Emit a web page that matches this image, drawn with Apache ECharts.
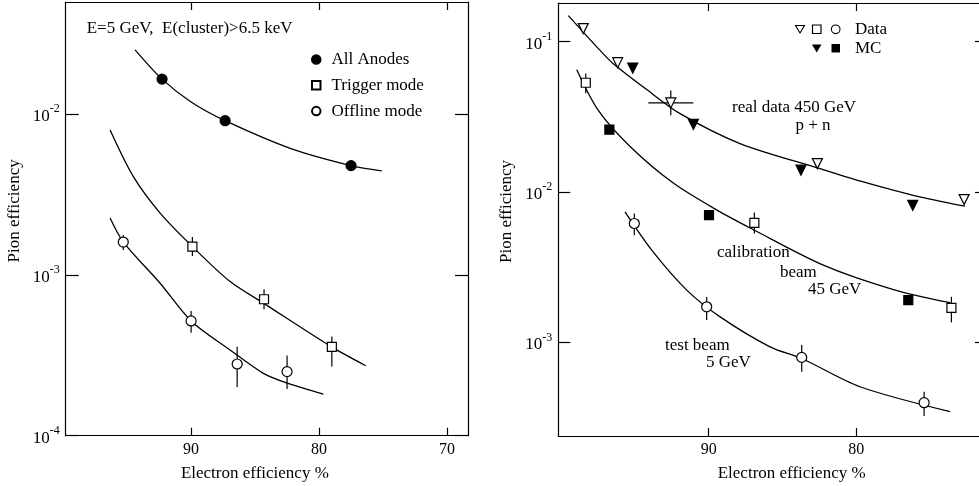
<!DOCTYPE html>
<html>
<head>
<meta charset="utf-8">
<script src="https://cdn.jsdelivr.net/npm/echarts@6/dist/echarts.min.js"></script>
<style>
html, body { margin: 0; padding: 0; background: #fff; }
#chart { width: 979px; height: 486px; }
</style>
</head>
<body>
<div id="chart"></div>
<script>
// left panel: E = 5 GeV
const xTicksLeft = [90, 80, 70];
const yTicksLeft = [1e-4, 1e-3, 1e-2];
const allAnodes = [[92.27, 0.0165], [87.34, 0.0091], [77.5, 0.00478]];
const triggerMode = [[89.9, 0.0015], [84.3, 0.000705], [79.0, 0.000356]];
const triggerErr = [[89.9, 0.00131, 0.00172], [84.3, 0.000611, 0.000813], [79.0, 0.000269, 0.000413]];
const offlineMode = [[95.3, 0.0016], [90.0, 0.000517], [86.4, 0.000279], [82.5, 0.00025]];
const offlineErr = [[95.3, 0.00143, 0.00177], [90.0, 0.000437, 0.000596], [86.4, 0.000201, 0.000357], [82.5, 0.000195, 0.000315]];
const fitAll = [[94.38, 0.0251], [92.27, 0.0165], [90.0, 0.0119], [87.34, 0.0091], [82.2, 0.0061], [77.5, 0.00478], [75.1, 0.00443]];
const fitTrigger = [[96.33, 0.00796], [94.51, 0.00408], [92.42, 0.00242], [89.9, 0.0015], [86.95, 0.000908], [84.32, 0.000665], [78.98, 0.000355], [76.35, 0.000272]];
const fitOffline = [[96.33, 0.00226], [95.29, 0.0016], [92.42, 0.000887], [90.0, 0.000517], [86.95, 0.000341], [84.35, 0.000244], [82.48, 0.000212], [79.66, 0.000181]];

// right panel: data vs MC
const xTicksRight = [90, 80];
const yTicksRight = [1e-3, 1e-2, 1e-1];
const dataTri = [[98.5, 0.122], [96.17, 0.0724], [92.57, 0.0391], [82.64, 0.01545], [72.7, 0.00891]];
const mcTri = [[95.15, 0.0667], [91.04, 0.0282], [83.75, 0.01397], [76.18, 0.00816]];
const dataSq = [[98.33, 0.0533], [86.91, 0.00624], [73.56, 0.0017]];
const mcSq = [[96.73, 0.026], [89.98, 0.00702], [76.48, 0.00191]];
const dataCirc = [[95.04, 0.00618], [90.14, 0.001726], [83.7, 0.000796], [75.41, 0.000398]];
const triErrY = [[92.57, 0.0324, 0.0474]];
const triErrX = [[0.0391, 94.09, 91.04]];
const sqErr = [[98.33, 0.0453, 0.0615], [86.91, 0.0053, 0.00731], [73.56, 0.00136, 0.00201]];
const circErr = [[95.04, 0.00516, 0.00719], [90.14, 0.00141, 0.00201], [83.7, 0.000638, 0.000962], [75.41, 0.000325, 0.000471]];
const fitReal = [[99.51, 0.149], [97.36, 0.0874], [96.46, 0.0713], [94.2, 0.048], [91.94, 0.0332], [87.88, 0.021], [82.46, 0.0143], [79.53, 0.01167], [76.15, 0.00952], [72.64, 0.00805]];
const fitCalib = [[98.94, 0.065], [97.48, 0.0349], [95.33, 0.0201], [92.4, 0.01148], [89.23, 0.00738], [87.0, 0.00564], [82.24, 0.00327], [77.49, 0.00225], [73.65, 0.00184]];
const fitTest = [[95.67, 0.00738], [93.86, 0.00411], [91.49, 0.00223], [89.23, 0.00148], [85.85, 0.000936], [83.7, 0.000783], [79.75, 0.000508], [73.65, 0.000347]];

const serif = 'Liberation Serif';
const ink = '#000';

let chart = echarts.init(document.getElementById('chart'), null, { renderer: 'canvas' });

function xAxisOf(grid, pos, min, max, ticks, withLabels, namePad) {
    return {
        type: 'value', gridIndex: grid, position: pos, inverse: true, min: min, max: max,
        name: withLabels ? 'Electron efficiency %' : '', nameLocation: 'middle', nameGap: 29,
        nameTextStyle: { fontFamily: serif, fontSize: 17, color: ink, padding: namePad || 0 },
        axisLine: { show: true, onZero: false, lineStyle: { color: ink, width: 1.2 } },
        axisTick: { show: true, inside: true, length: 8, customValues: ticks, lineStyle: { color: ink, width: 1.2 } },
        axisLabel: { show: withLabels, customValues: ticks, margin: 6, fontFamily: serif, fontSize: 16, color: ink },
        splitLine: { show: false }
    };
}

function yAxisOf(grid, pos, min, max, ticks, withLabels, tickLen) {
    return {
        type: 'log', logBase: 10, gridIndex: grid, position: pos, min: min, max: max,
        name: withLabels ? 'Pion efficiency' : '', nameLocation: 'middle', nameGap: 43, nameRotate: 90,
        nameTextStyle: { fontFamily: serif, fontSize: 17, color: ink, padding: [0, 0, 0, 16] },
        axisLine: { show: true, onZero: false, lineStyle: { color: ink, width: 1.2 } },
        axisTick: { show: true, inside: true, length: tickLen, customValues: ticks, lineStyle: { color: ink, width: 1.2 } },
        axisLabel: {
            show: withLabels, customValues: ticks, margin: 6,
            formatter: function (v) { return '{b|10}{e|' + Math.round(Math.log10(v)) + '}'; },
            rich: {
                b: { fontFamily: serif, fontSize: 17, color: ink, lineHeight: 22, verticalAlign: 'bottom' },
                e: { fontFamily: serif, fontSize: 12, color: ink, lineHeight: 12, verticalAlign: 'top' }
            }
        },
        splitLine: { show: false },
        minorTick: { show: false }
    };
}

function errRender(params, api) {
    let p1 = api.coord([api.value(0), api.value(1)]);
    let p2 = api.coord([api.value(0), api.value(2)]);
    return { type: 'line', shape: { x1: p1[0], y1: p1[1], x2: p2[0], y2: p2[1] }, style: { stroke: ink, lineWidth: 1.2 } };
}
function errRenderX(params, api) {
    let p1 = api.coord([api.value(1), api.value(0)]);
    let p2 = api.coord([api.value(2), api.value(0)]);
    return { type: 'line', shape: { x1: p1[0], y1: p1[1], x2: p2[0], y2: p2[1] }, style: { stroke: ink, lineWidth: 1.2 } };
}

function fitLine(name, data, ax) {
    return {
        name: name, type: 'line', xAxisIndex: ax, yAxisIndex: ax, data: data,
        smooth: 0.3, showSymbol: false, silent: true, z: 2,
        lineStyle: { color: ink, width: 1.3 }
    };
}
function errSeries(name, data, ax) {
    return { name: name, type: 'custom', xAxisIndex: ax, yAxisIndex: ax, data: data, renderItem: errRender, encode: { x: 0, y: [1, 2] }, silent: true, z: 3 };
}
function pts(name, data, ax, symbol, size, filled, rotate) {
    return {
        name: name, type: 'scatter', xAxisIndex: ax, yAxisIndex: ax, data: data,
        symbol: symbol, symbolSize: size, symbolRotate: rotate || 0, z: 5,
        itemStyle: { color: filled ? ink : '#fff', borderColor: ink, borderWidth: 1.2, opacity: 1 }
    };
}

let txt = function (x, y, s, align) {
    return { type: 'text', x: x, y: y, style: { text: s, fontFamily: serif, fontSize: 17, fill: ink, align: align || 'left', verticalAlign: 'middle' } };
};

let option = {
    animation: false,
    backgroundColor: '#fff',
    grid: [
        { left: 65.7, top: 2, width: 402.3, height: 433.7, containLabel: false, outerBoundsMode: 'none' },
        { left: 558.3, top: 3, width: 428.7, height: 433, containLabel: false, outerBoundsMode: 'none' }
    ],
    xAxis: [
        xAxisOf(0, 'bottom', 68.36, 99.8, xTicksLeft, true, [0, 24, 0, 0]),
        xAxisOf(0, 'top', 68.36, 99.8, xTicksLeft, false),
        xAxisOf(1, 'bottom', 71.15, 100.19, xTicksRight, true, [0, 0, 0, 38]),
        xAxisOf(1, 'top', 71.15, 100.19, xTicksRight, false)
    ],
    yAxis: [
        yAxisOf(0, 'left', 0.0000999, 0.0498, yTicksLeft, true, 13),
        yAxisOf(0, 'right', 0.0000999, 0.0498, yTicksLeft, false, 13),
        yAxisOf(1, 'left', 0.000239, 0.1806, yTicksRight, true, 12),
        yAxisOf(1, 'right', 0.000239, 0.1806, yTicksRight, false, 12)
    ],
    legend: {
        left: 306, top: 46, orient: 'vertical', itemWidth: 8.5, itemHeight: 8.5, itemGap: 8.8,
        data: ['All Anodes', 'Trigger mode', 'Offline mode'],
        textStyle: { fontFamily: serif, fontSize: 17, color: ink, padding: [0, 0, 0, 6] },
        selectedMode: false
    },
    graphic: [
        txt(86.7, 28.3, 'E=5 GeV,  E(cluster)>6.5 keV'),
        txt(732, 108, 'real data 450 GeV'),
        txt(813, 126, 'p + n', 'center'),
        txt(717, 253, 'calibration'),
        txt(780, 272.7, 'beam'),
        txt(808, 290, '45 GeV'),
        txt(665, 346, 'test beam'),
        txt(706, 363, '5 GeV'),
        // Data / MC key
        { type: 'polygon', shape: { points: [[795.5, 25.5], [804.5, 25.5], [800, 33]] }, style: { fill: '#fff', stroke: ink, lineWidth: 1.1 } },
        { type: 'rect', shape: { x: 812.5, y: 25, width: 8.5, height: 8.5 }, style: { fill: '#fff', stroke: ink, lineWidth: 1.2 } },
        { type: 'circle', shape: { cx: 835.7, cy: 29.3, r: 4.3 }, style: { fill: '#fff', stroke: ink, lineWidth: 1.1 } },
        txt(855, 29.3, 'Data'),
        { type: 'polygon', shape: { points: [[812, 44.5], [821.5, 44.5], [816.7, 52.5]] }, style: { fill: ink } },
        { type: 'rect', shape: { x: 831.5, y: 44, width: 8.5, height: 8.5 }, style: { fill: ink } },
        txt(855, 48.3, 'MC')
    ],
    series: [
        fitLine('fit all', fitAll, 0),
        fitLine('fit trigger', fitTrigger, 0),
        fitLine('fit offline', fitOffline, 0),
        errSeries('trigger err', triggerErr, 0),
        errSeries('offline err', offlineErr, 0),
        pts('All Anodes', allAnodes, 0, 'circle', 10, true),
        pts('Trigger mode', triggerMode, 0, 'rect', 9, false),
        pts('Offline mode', offlineMode, 0, 'circle', 10, false),

        fitLine('fit real', fitReal, 2),
        fitLine('fit calib', fitCalib, 2),
        fitLine('fit test', fitTest, 2),
        errSeries('tri err', triErrY, 2),
        { name: 'tri err x', type: 'custom', xAxisIndex: 2, yAxisIndex: 2, data: triErrX, renderItem: errRenderX, encode: { x: [1, 2], y: 0 }, silent: true, z: 3 },
        errSeries('sq err', sqErr, 2),
        errSeries('circ err', circErr, 2),
        pts('Data 450', dataTri, 2, 'triangle', 10, false, 180),
        pts('MC 450', mcTri, 2, 'triangle', 10, true, 180),
        pts('Data 45', dataSq, 2, 'rect', 9, false),
        pts('MC 45', mcSq, 2, 'rect', 9, true),
        pts('Data 5', dataCirc, 2, 'circle', 10, false)
    ]
};
chart.setOption(option);
</script>
</body>
</html>
